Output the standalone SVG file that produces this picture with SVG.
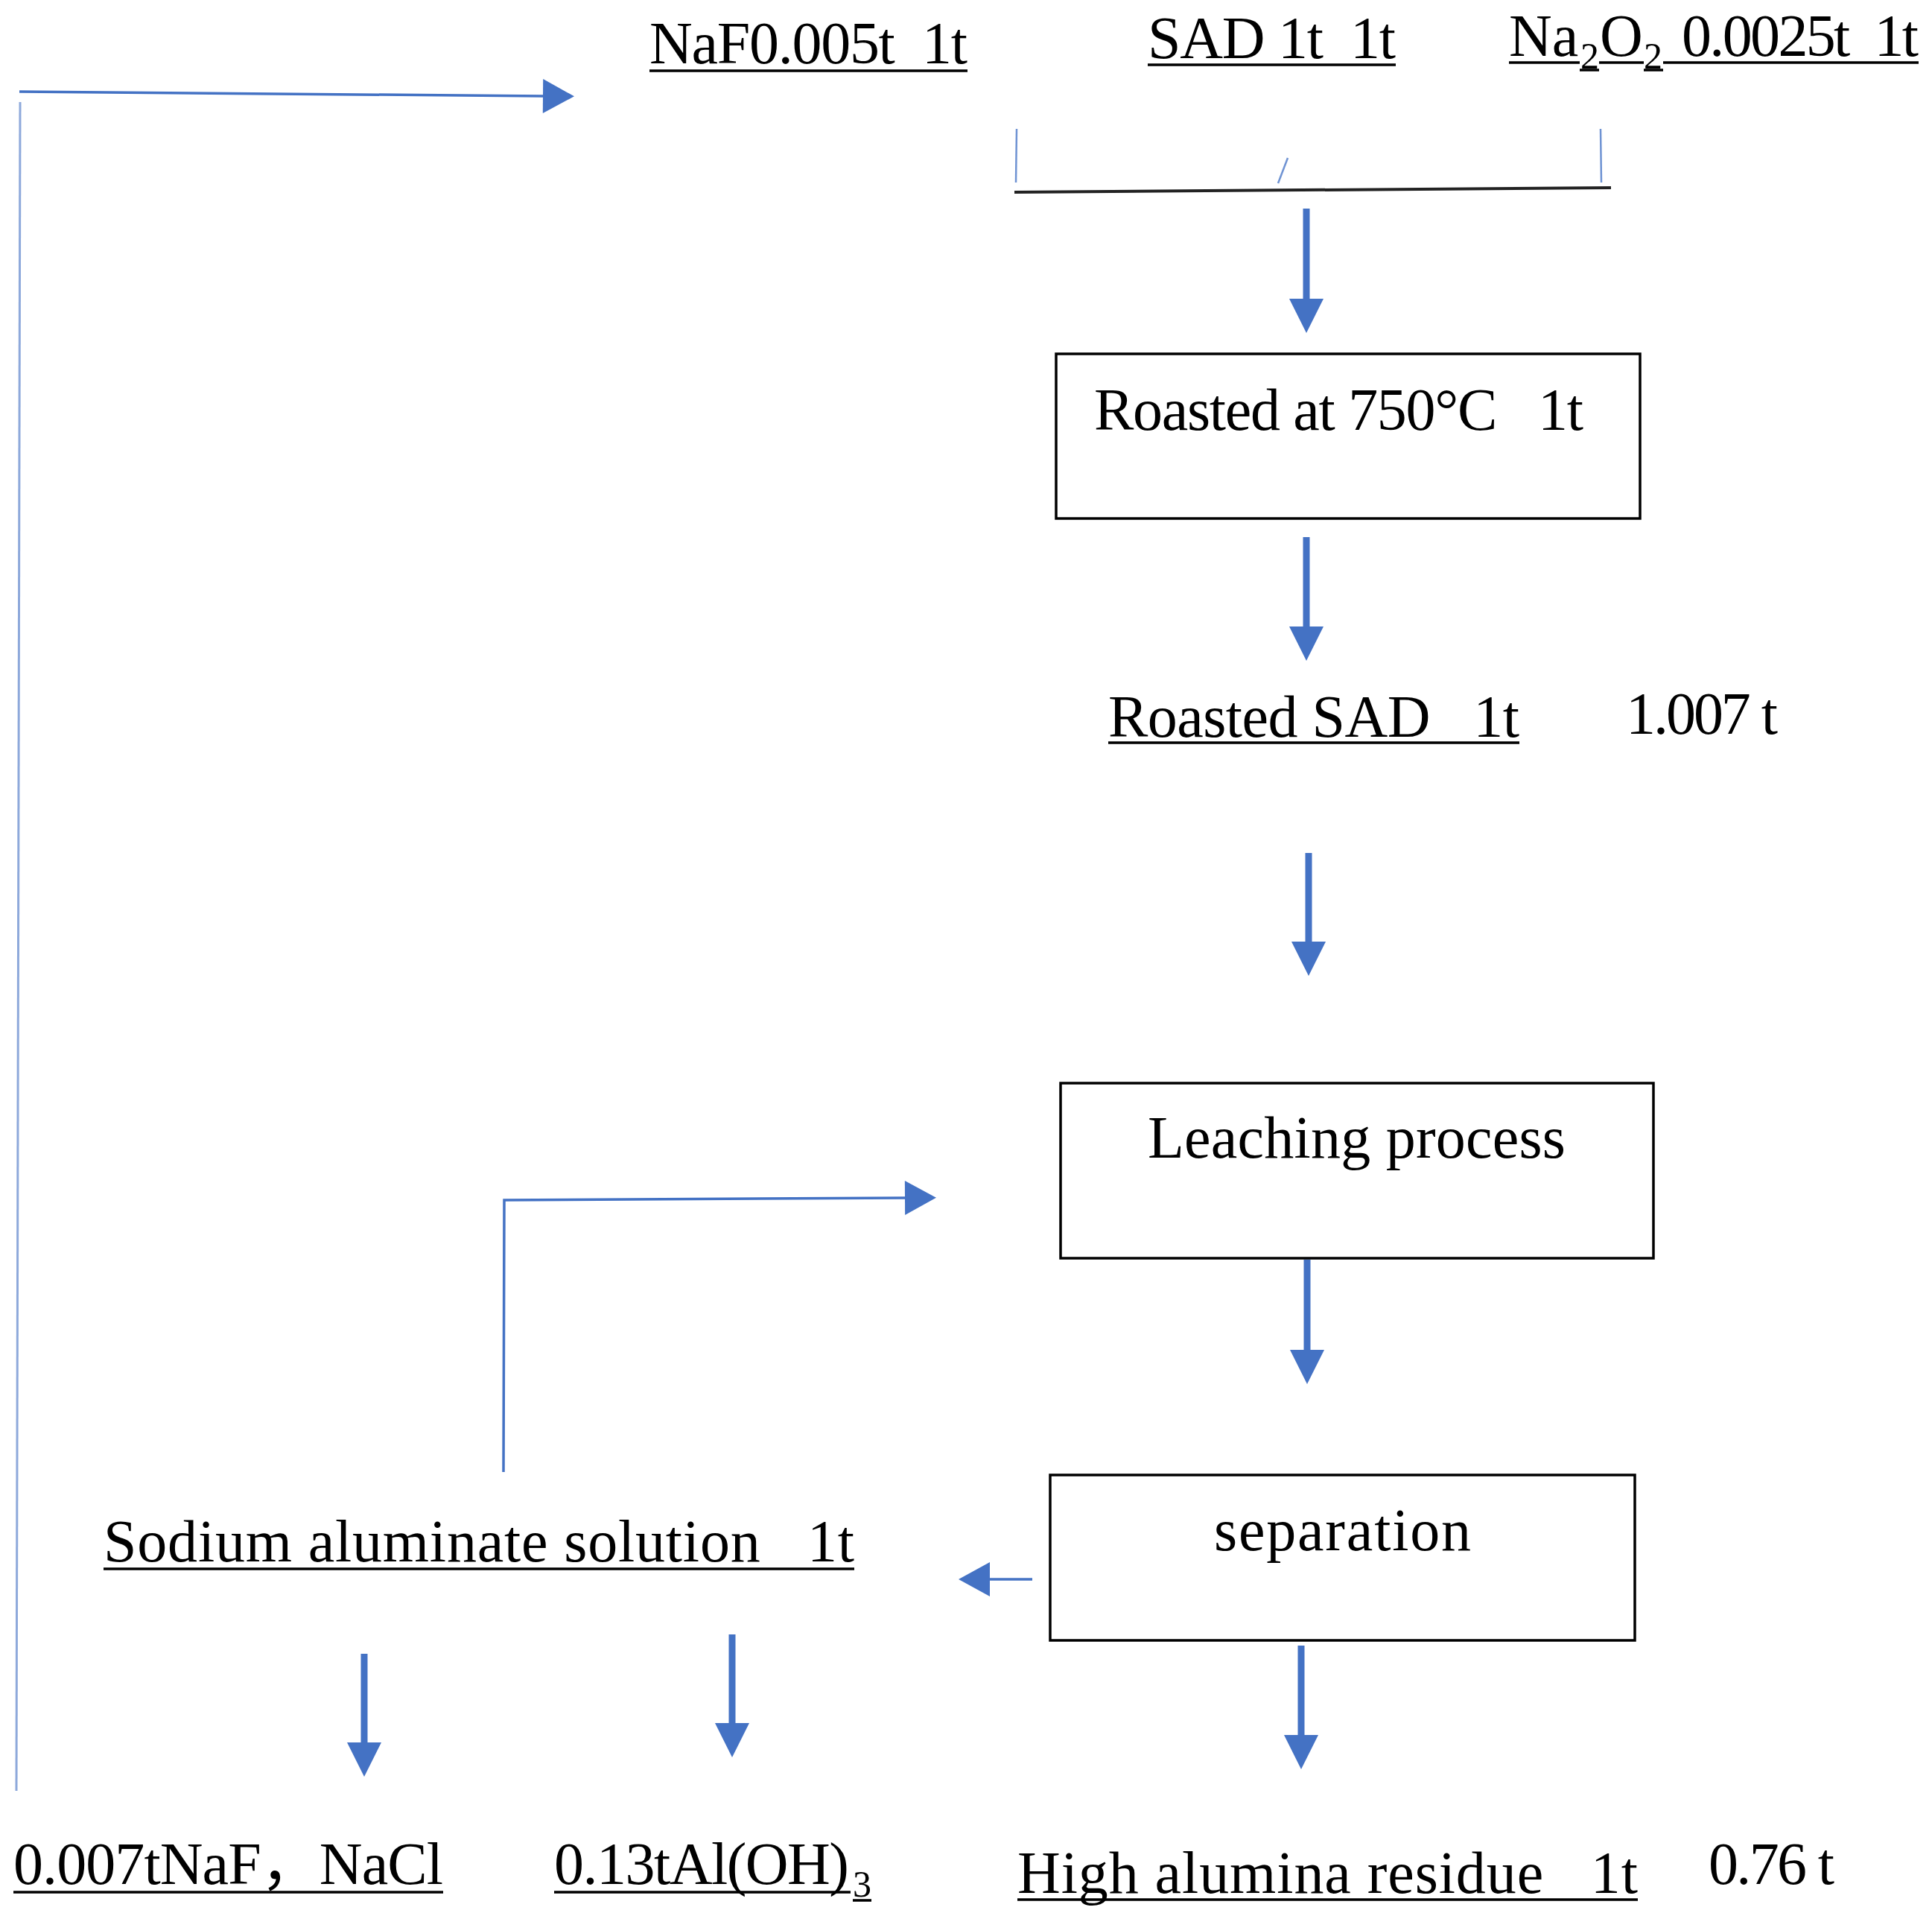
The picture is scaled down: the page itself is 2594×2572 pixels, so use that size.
<svg xmlns="http://www.w3.org/2000/svg" width="2594" height="2572" viewBox="0 0 2594 2572" xml:space="preserve">
<style>
text{font-family:"Liberation Serif","Noto Sans CJK SC",serif;font-size:80px;fill:#000;white-space:pre}
.sub{font-size:50px}
.ul{stroke:#000;stroke-width:3.5;fill:none}
.box{fill:#fff;stroke:#000;stroke-width:3.5}
.thick{stroke:#4472C4;stroke-width:9;fill:none}
.thin{stroke:#4472C4;stroke-width:3.5;fill:none}
.faint{stroke:#8EA9DB;stroke-width:3;fill:none}
.brk{stroke:#6F93D3;stroke-width:2.5;fill:none}
</style>
<defs>
<marker id="headV" markerUnits="userSpaceOnUse" markerWidth="46" markerHeight="46" viewBox="0 0 44 44" refX="0" refY="22" orient="auto">
<path d="M0,0 L44,22 L0,44 Z" fill="#4472C4"/>
</marker>
<marker id="headT" markerUnits="userSpaceOnUse" markerWidth="44" markerHeight="46" viewBox="0 0 42 46" refX="0" refY="23" orient="auto">
<path d="M0,0 L42,23 L0,46 Z" fill="#4472C4"/>
</marker>
</defs>
<rect width="2594" height="2572" fill="#fff"/>

<g id="connectors">
<!-- long recycle line on the left -->
<line class="faint" x1="27" y1="137" x2="22" y2="2404"/>
<line class="thin" x1="26" y1="123" x2="729" y2="129" marker-end="url(#headT)"/>
<!-- bracket joining raw materials -->
<line class="brk" x1="1365" y1="173" x2="1364" y2="245"/>
<line class="brk" x1="1729" y1="212" x2="1716" y2="246"/>
<line class="brk" x1="2149" y1="173" x2="2150" y2="245"/>
<line x1="1362" y1="258" x2="2163" y2="252" stroke="#222" stroke-width="4"/>
<!-- main vertical flow -->
<line class="thick" x1="1754" y1="280" x2="1754" y2="401" marker-end="url(#headV)"/>
<line class="thick" x1="1754" y1="721" x2="1754" y2="841" marker-end="url(#headV)"/>
<line class="thick" x1="1757" y1="1145" x2="1757" y2="1264" marker-end="url(#headV)"/>
<line class="thick" x1="1755" y1="1691" x2="1755" y2="1812" marker-end="url(#headV)"/>
<line class="thick" x1="1747" y1="2209" x2="1747" y2="2329" marker-end="url(#headV)"/>
<!-- separation to sodium aluminate solution -->
<line class="thin" x1="1386" y1="2120" x2="1329" y2="2120" marker-end="url(#headT)"/>
<!-- recycle to leaching -->
<polyline class="thin" points="676,1976 677,1611 1215,1608" marker-end="url(#headT)"/>
<!-- products of sodium aluminate solution -->
<line class="thick" x1="489" y1="2220" x2="489" y2="2339" marker-end="url(#headV)"/>
<line class="thick" x1="983" y1="2194" x2="983" y2="2313" marker-end="url(#headV)"/>
</g>

<g id="naf">
<text x="872" y="85" textLength="427">NaF0.005t  1t</text>
<line class="ul" x1="872" y1="95" x2="1299" y2="95"/>
</g>

<g id="sad">
<text x="1541" y="78" textLength="333">SAD 1t  1t</text>
<line class="ul" x1="1541" y1="87" x2="1874" y2="87"/>
</g>

<g id="na2o2">
<text x="2026" y="75">Na</text>
<text class="sub" x="2122" y="92">2</text>
<text x="2148" y="75">O</text>
<text class="sub" x="2207" y="92">2</text>
<text x="2258" y="75" textLength="318">0.0025t  1t</text>
<path class="ul" d="M2026,84 H2121 M2121,94 H2147 M2147,84 H2207 M2207,94 H2233 M2233,84 H2576"/>
</g>

<g id="roast">
<rect class="box" x="1418" y="475" width="784" height="221"/>
<text x="1469" y="577" textLength="657">Roasted at 750°C   1t</text>
</g>

<g id="roasted-sad">
<text x="1488" y="989" textLength="552">Roasted SAD   1t</text>
<line class="ul" x1="1488" y1="997" x2="2040" y2="997"/>
<text x="2183" y="985" textLength="204">1.007 t</text>
</g>

<g id="leaching">
<rect class="box" x="1424" y="1454" width="796" height="235"/>
<text x="1541" y="1554" textLength="561">Leaching process</text>
</g>

<g id="separation">
<rect class="box" x="1410" y="1980" width="785" height="222"/>
<text x="1630" y="2081" textLength="345">separation</text>
</g>

<g id="sodium-aluminate">
<text x="139" y="2096" textLength="1008">Sodium aluminate solution   1t</text>
<line class="ul" x1="139" y1="2106" x2="1147" y2="2106"/>
</g>

<g id="naf-nacl">
<text x="18" y="2529" textLength="577">0.007tNaF，NaCl</text>
<line class="ul" x1="18" y1="2540" x2="595" y2="2540"/>
</g>

<g id="aloh3">
<text x="744" y="2529" textLength="396">0.13tAl(OH)</text>
<text class="sub" x="1145" y="2546">3</text>
<path class="ul" d="M744,2540 H1142 M1145,2551 H1170"/>
</g>

<g id="residue">
<text x="1366" y="2541" textLength="833">High alumina residue   1t</text>
<line class="ul" x1="1366" y1="2550" x2="2199" y2="2550"/>
<text x="2294" y="2529" textLength="169">0.76 t</text>
</g>
</svg>
